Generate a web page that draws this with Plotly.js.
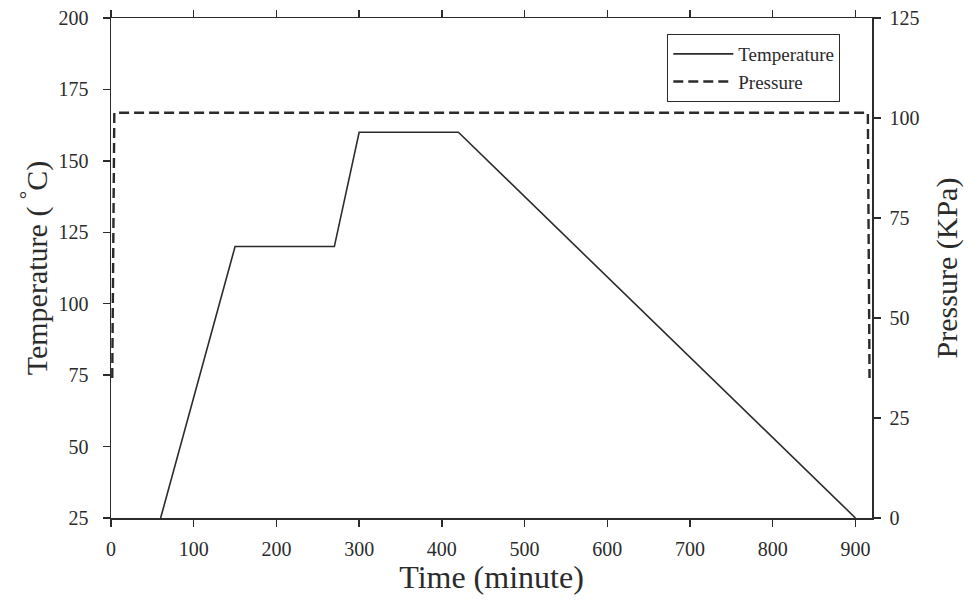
<!DOCTYPE html>
<html>
<head>
<meta charset="utf-8">
<script src="https://cdn.plot.ly/plotly-3.0.1.min.js"></script>
<style>html,body{margin:0;padding:0;background:#fff;}#chart{width:978px;height:601px;}</style>
</head>
<body>
<div id="chart"></div>
<script>
// Temperature profile (time in minutes, temperature in °C)
const tempTime = [60, 150, 270, 300, 420, 900];
const tempValue = [25, 120, 120, 160, 160, 25];
// Pressure profile (time in minutes, pressure in KPa)
const presTime = [1.5, 4, 915, 917];
const presValue = [35, 101.3, 101.3, 35];
// Tick values
const xTicks = [0, 100, 200, 300, 400, 500, 600, 700, 800, 900];
const tempTicks = [25, 50, 75, 100, 125, 150, 175, 200];
const presTicks = [0, 25, 50, 75, 100, 125];

const font = "'Liberation Serif', 'Times New Roman', serif";
const ink = '#2b2b2b';

const traces = [
  {x: tempTime, y: tempValue, type: 'scatter', mode: 'lines', name: 'Temperature',
   line: {color: ink, width: 1.6}, yaxis: 'y'},
  {x: presTime, y: presValue, type: 'scatter', mode: 'lines', name: 'Pressure',
   line: {color: ink, width: 2.4, dash: '10px,5px'}, yaxis: 'y2'}
];

const layout = {
  width: 978, height: 601,
  margin: {l: 111, r: 106, t: 18, b: 83},
  paper_bgcolor: '#fff', plot_bgcolor: '#fff',
  font: {family: font, color: ink},
  showlegend: true,
  legend: {x: 0.731, y: 0.968, xanchor: 'left', yanchor: 'top',
           bordercolor: ink, borderwidth: 1, bgcolor: '#fff',
           font: {family: font, size: 19, color: ink}, tracegroupgap: 0,
           itemwidth: 60},
  xaxis: {range: [0, 920], tickvals: xTicks, ticktext: xTicks.map(String),
          ticks: 'outside', ticklen: 7, tickwidth: 1.5, tickcolor: ink,
          showline: true, linecolor: ink, linewidth: 1.5, mirror: 'ticks',
          showgrid: false, zeroline: false, ticklabelstandoff: 5,
          tickfont: {family: font, size: 20, color: ink},
          title: {text: 'Time (minute)', font: {family: font, size: 32, color: ink}, standoff: 7}},
  yaxis: {range: [25, 200], tickvals: tempTicks, ticktext: tempTicks.map(String),
          ticks: 'outside', ticklen: 7, tickwidth: 1.5, tickcolor: ink,
          showline: true, linecolor: ink, linewidth: 1.5, mirror: true,
          showgrid: false, zeroline: false, ticklabelstandoff: 10,
          tickfont: {family: font, size: 20, color: ink},
          title: {text: 'Temperature ( <sup>°</sup>C)', font: {family: font, size: 30, color: ink}, standoff: 2}},
  yaxis2: {range: [0, 125], tickvals: presTicks, ticktext: presTicks.map(String),
           overlaying: 'y', side: 'right',
           ticks: 'outside', ticklen: 7, tickwidth: 1.5, tickcolor: ink,
           showline: true, linecolor: ink, linewidth: 1.5,
           showgrid: false, zeroline: false, ticklabelstandoff: 5,
           tickfont: {family: font, size: 20, color: ink},
           title: {text: 'Pressure (KPa)', font: {family: font, size: 30, color: ink}, standoff: 17}}
};

Plotly.newPlot('chart', traces, layout, {displayModeBar: false, staticPlot: true});
</script>
</body>
</html>
